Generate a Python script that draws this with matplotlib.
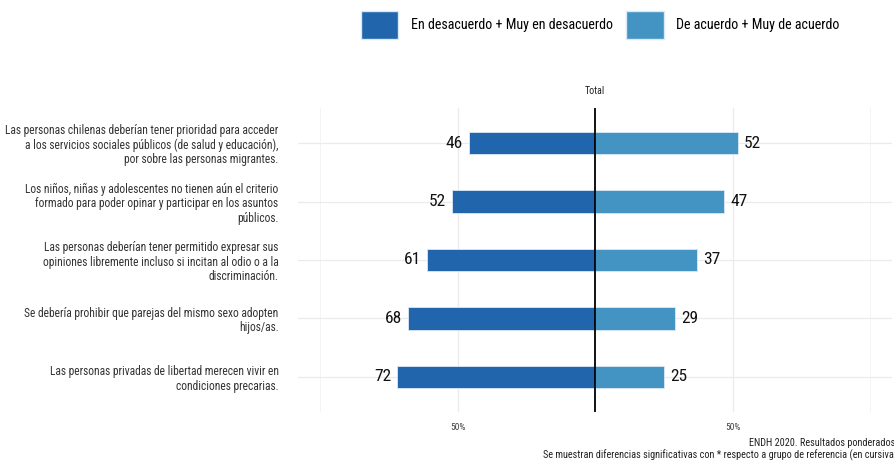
import matplotlib
matplotlib.use("Agg")
import matplotlib.pyplot as plt
from matplotlib import font_manager as fm
from matplotlib.patches import Rectangle

names = {f.name for f in fm.fontManager.ttflist}
for cand in ["Roboto Condensed", "Liberation Sans Narrow", "Roboto", "DejaVu Sans"]:
    if cand in names:
        FONT = cand
        break
plt.rcParams['font.family'] = [FONT, 'DejaVu Sans']

categories = [
    "Las personas chilenas deberían tener prioridad para acceder\na los servicios sociales públicos (de salud y educación),\npor sobre las personas migrantes.",
    "Los niños, niñas y adolescentes no tienen aún el criterio\nformado para poder opinar y participar en los asuntos\npúblicos.",
    "Las personas deberían tener permitido expresar sus\nopiniones libremente incluso si incitan al odio o a la\ndiscriminación.",
    "Se debería prohibir que parejas del mismo sexo adopten\nhijos/as.",
    "Las personas privadas de libertad merecen vivir en\ncondiciones precarias.",
]
desacuerdo = [46, 52, 61, 68, 72]
acuerdo = [52, 47, 37, 29, 25]
series_names = ["En desacuerdo + Muy en desacuerdo", "De acuerdo + Muy de acuerdo"]
tick_labels = ["50%", "50%"]
colors = ["#2166ac", "#4393c3"]

W, H = 894, 466
fig = plt.figure(figsize=(W/100, H/100), dpi=100)
ax = fig.add_axes([298/W, 1-412/H, 594/W, 304/H])

pos = list(range(1, len(categories)+1))
bh = 0.38
ax.barh(pos, [-v for v in desacuerdo], height=bh, color=colors[0], edgecolor="#dbe8f5", linewidth=0.6, zorder=3)
ax.barh(pos, acuerdo, height=bh, color=colors[1], edgecolor="#dbe8f5", linewidth=0.6, zorder=3)
for p, v in zip(pos, desacuerdo):
    ax.text(-v-2.2, p, str(v), ha="right", va="center", fontsize=12.5, color="#111111", zorder=4)
for p, v in zip(pos, acuerdo):
    ax.text(v+2.2, p, str(v), ha="left", va="center", fontsize=12.5, color="#111111", zorder=4)

ax.axvline(0, color="black", linewidth=1.3, zorder=5)
ax.set_xlim(-108, 108)
ax.set_ylim(5.6, 0.4)
ax.set_xticks([-50, 50])
ax.set_xticklabels(tick_labels, fontsize=6.8, color="#444444")
ax.set_xticks([-100, 100], minor=True)
ax.set_yticks(pos)
ax.set_yticklabels(categories, fontsize=8.3, color="#333333", linespacing=1.13)
ax.tick_params(axis="both", which="both", length=0)
ax.tick_params(axis="y", pad=14)
ax.tick_params(axis="x", pad=8)
ax.grid(True, axis="both", which="major", color="#ebebeb", linewidth=0.9, zorder=0)
ax.grid(True, axis="x", which="minor", color="#f4f4f4", linewidth=0.7, zorder=0)
for s in ax.spines.values():
    s.set_visible(False)
ax.set_title("Total", fontsize=7.2, color="#222222", pad=10)

# legend
handles = [Rectangle((0, 0), 1, 1, facecolor=c, edgecolor="#dbe8f5") for c in colors]
fig.legend(handles, series_names, loc="upper center", bbox_to_anchor=(600/W, 1.0+2/H), ncol=2,
           frameon=False, fontsize=10.1, handlelength=2.7, handleheight=2.7, handletextpad=0.9,
           columnspacing=0.9)

fig.text(895/W, 1-443/H, "ENDH 2020. Resultados ponderados", ha="right", va="center", fontsize=7.4, color="#222222")
fig.text(897/W, 1-455/H, "Se muestran diferencias significativas con * respecto a grupo de referencia (en cursiva)", ha="right", va="center", fontsize=7.4, color="#222222")

fig.savefig("out.png", dpi=100, facecolor="white")
